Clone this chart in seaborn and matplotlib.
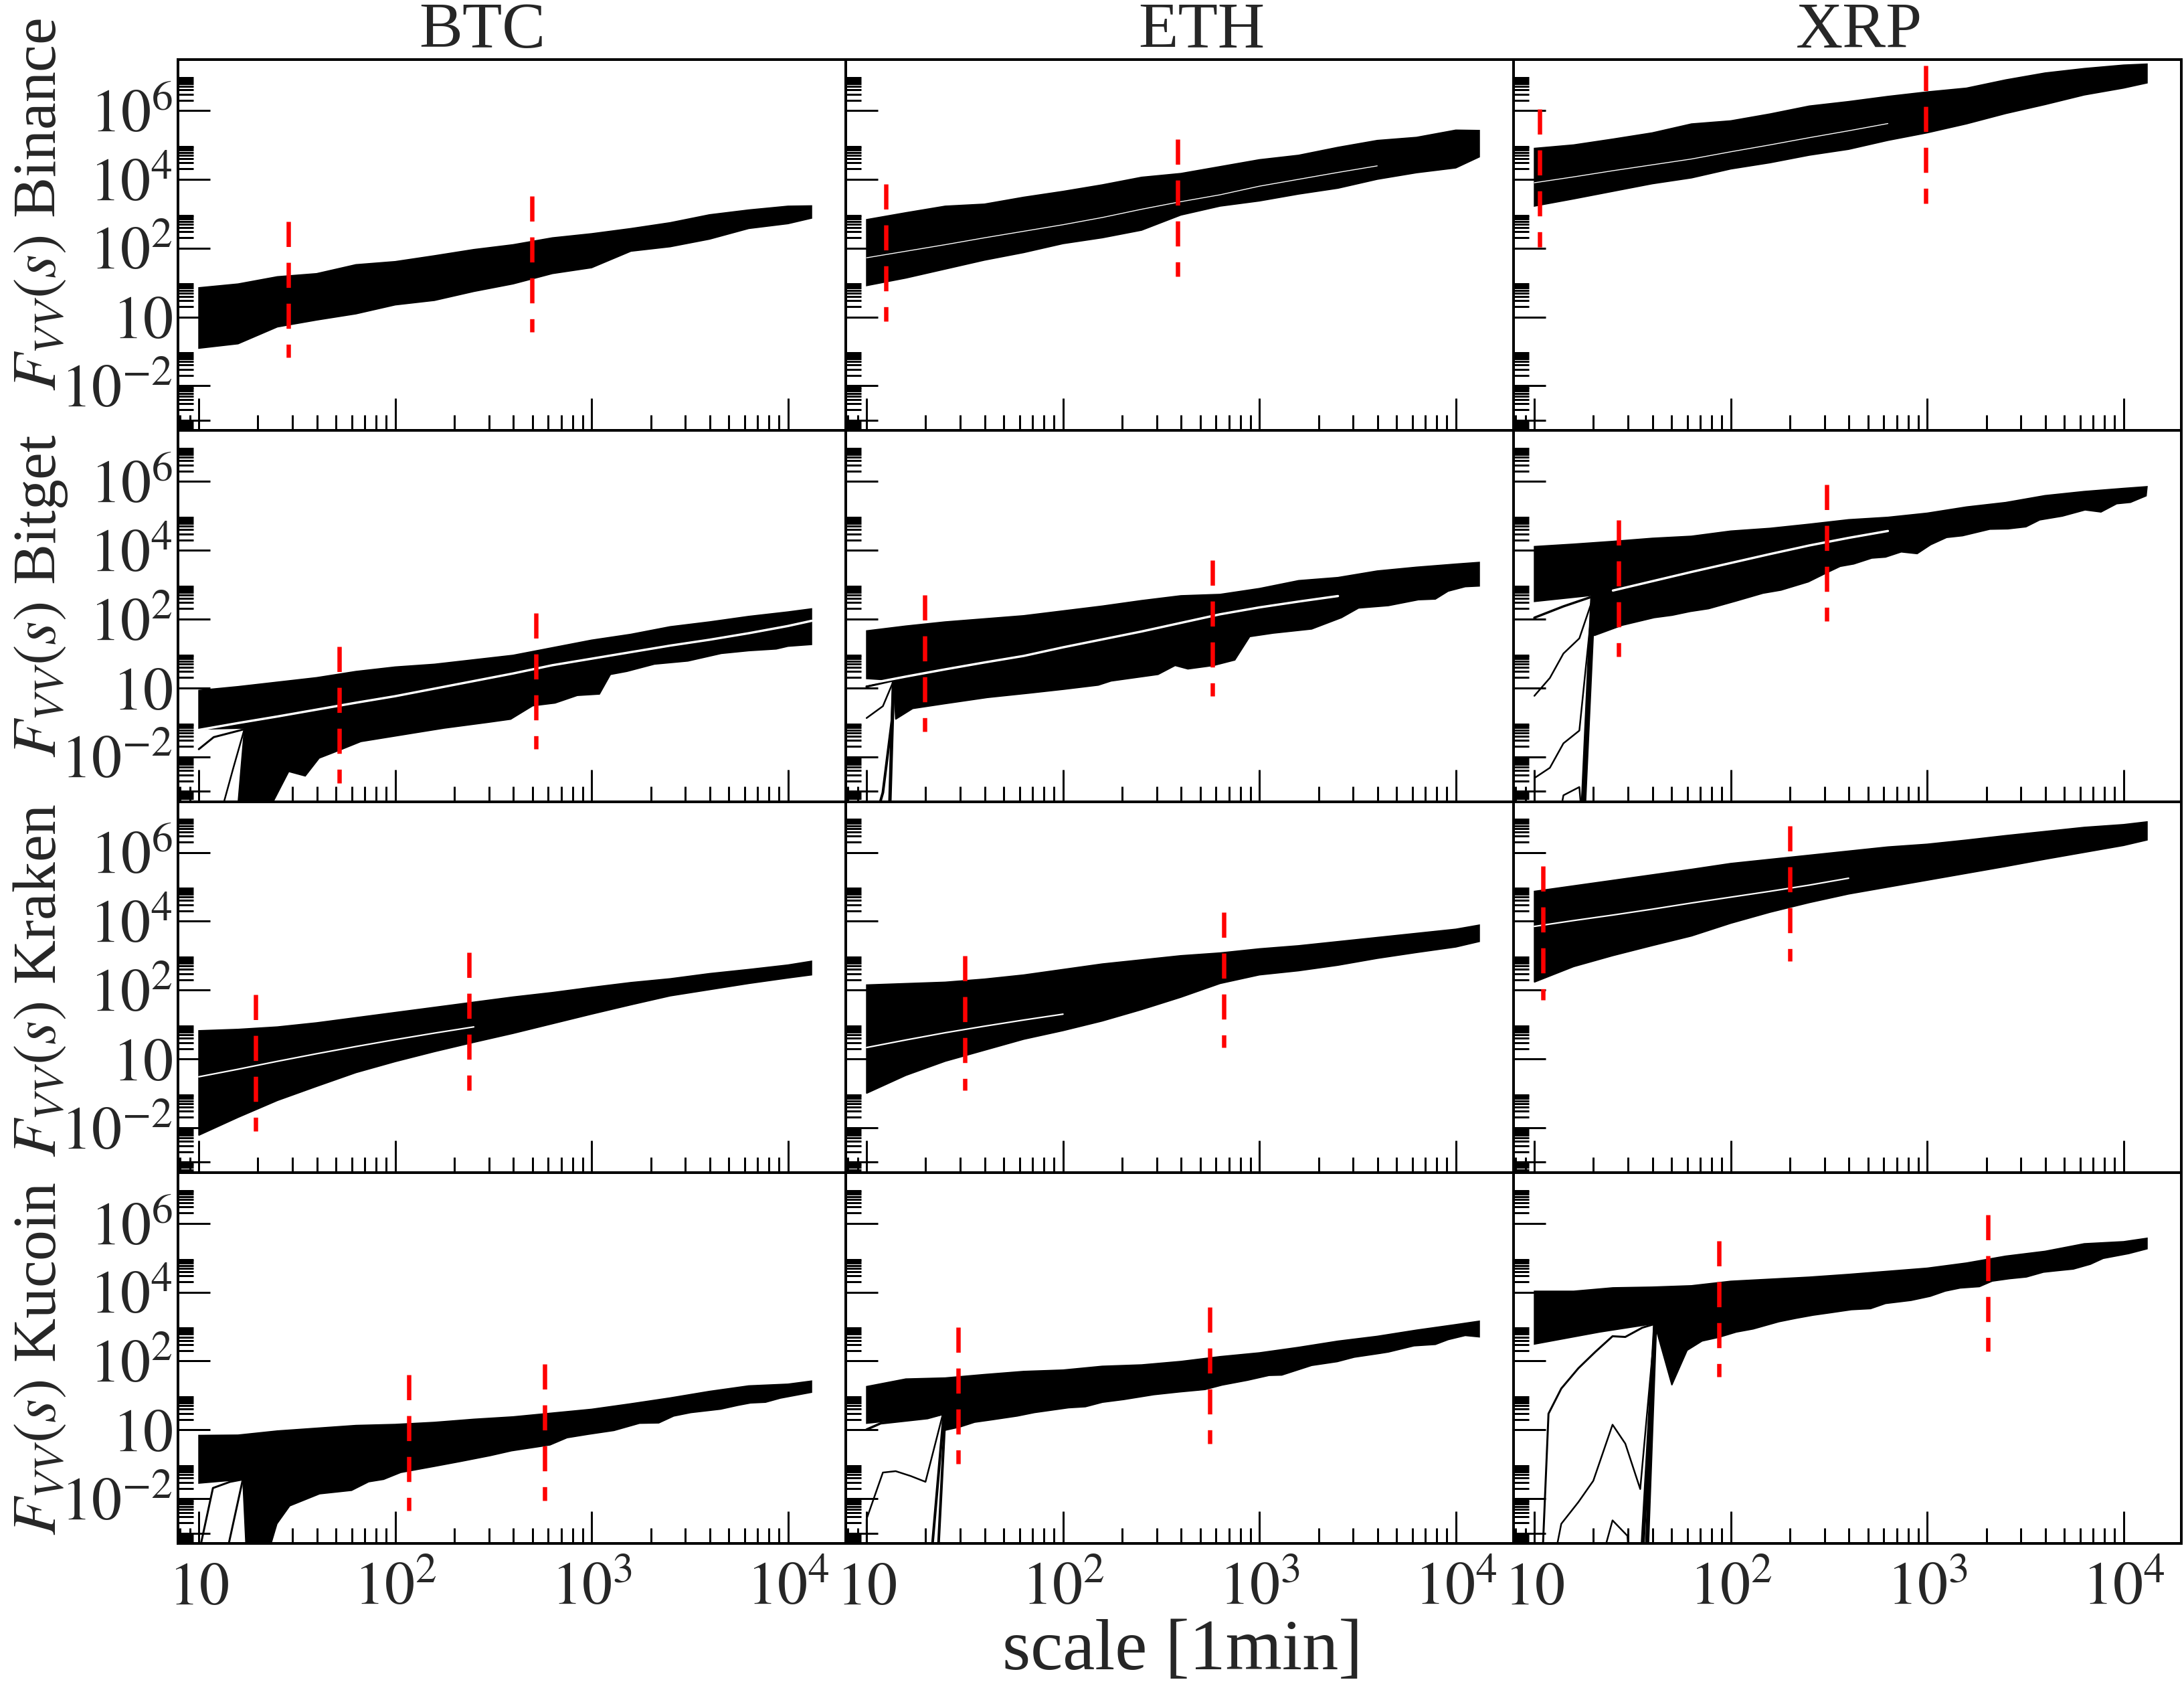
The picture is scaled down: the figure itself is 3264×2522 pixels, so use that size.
import numpy as np
import matplotlib
matplotlib.use("Agg")
import matplotlib.pyplot as plt
import matplotlib.ticker as mticker
import seaborn as sns

# --- layout constants (reference is 3264 x 2522 px) ---
W, H = 3264, 2522
PX = 0.72  # points per pixel at dpi=100

# --- DATA: log10(scale) grid for the top edges / white lines ---
GRID = [1.0, 1.2, 1.4, 1.6, 1.8, 2.0, 2.2, 2.4, 2.6, 2.8, 3.0, 3.2, 3.4, 3.6, 3.8, 4.0, 4.12]
nan = float("nan")

COINS = ["BTC", "ETH", "XRP"]
EXCHANGES = ["Binance", "Bitget", "Kraken", "Kucoin"]

# all band values are log10 F_VV(s)
# Binance
btc_binance_top = [0.85, 0.96, 1.17, 1.26, 1.52, 1.61, 1.78, 1.96, 2.10, 2.30, 2.42, 2.57, 2.74, 2.97, 3.11, 3.22, 3.23]
btc_binance_low = [-0.91, -0.78, -0.29, -0.09, 0.09, 0.35, 0.48, 0.74, 0.96, 1.26, 1.43, 1.91, 2.04, 2.26, 2.57, 2.71, 2.87]
btc_binance_cut_s = [1.455, 2.695]
btc_binance_cut_hi = [2.78, 3.52]
btc_binance_cut_lo = [-1.17, -0.43]

eth_binance_top = [2.83, 3.03, 3.22, 3.28, 3.48, 3.65, 3.84, 4.06, 4.17, 4.37, 4.57, 4.70, 4.93, 5.13, 5.22, 5.43, 5.42]
eth_binance_low = [0.91, 1.13, 1.39, 1.65, 1.87, 2.13, 2.30, 2.52, 2.96, 3.22, 3.37, 3.57, 3.74, 4.00, 4.19, 4.33, 4.65]
eth_binance_mid = [1.72, 1.91, 2.10, 2.30, 2.49, 2.68, 2.89, 3.13, 3.35, 3.55, 3.80, 4.00, 4.20, 4.39, nan, nan, nan]
eth_binance_cut_s = [1.10, 2.584]
eth_binance_cut_hi = [3.87, 5.17]
eth_binance_cut_lo = [-0.13, 1.17]

xrp_binance_top = [4.90, 5.00, 5.17, 5.35, 5.61, 5.70, 5.90, 6.13, 6.26, 6.41, 6.54, 6.65, 6.89, 7.09, 7.22, 7.32, 7.35]
xrp_binance_low = [3.22, 3.43, 3.65, 3.87, 4.04, 4.30, 4.48, 4.70, 4.87, 5.13, 5.35, 5.61, 5.91, 6.17, 6.45, 6.65, 6.80]
xrp_binance_mid = [3.90, 4.07, 4.25, 4.42, 4.59, 4.80, 5.00, 5.21, 5.41, 5.62, nan, nan, nan, nan, nan, nan, nan]
xrp_binance_cut_s = [1.026, 2.993]
xrp_binance_cut_hi = [6.04, 7.30]
xrp_binance_cut_lo = [2.04, 3.30]

# Bitget
btc_bitget_top = [-0.07, 0.04, 0.17, 0.30, 0.48, 0.61, 0.69, 0.82, 0.95, 1.17, 1.39, 1.56, 1.78, 1.92, 2.08, 2.21, 2.30]
btc_bitget_low_s = [1.0, 1.232, 1.19, 1.316, 1.458, 1.542, 1.613, 1.712, 1.825, 1.966, 2.107, 2.249, 2.475, 2.588,
                    2.70, 2.814, 2.927, 3.04, 3.096, 3.18, 3.32, 3.49, 3.66, 3.80, 3.94, 4.0, 4.12]
btc_bitget_low = [-1.20, -1.17, -4, -4, -2.43, -2.56, -2.04, -1.82, -1.56, -1.43, -1.30, -1.17, -1.0, -0.91,
                  -0.52, -0.44, -0.22, -0.18, 0.39, 0.48, 0.69, 0.78, 1.0, 1.08, 1.13, 1.21, 1.26]
btc_bitget_mid = [-1.22, -1.02, -0.83, -0.63, -0.43, -0.24, -0.02, 0.20, 0.42, 0.66, 0.85, 1.04, 1.23, 1.40, 1.59, 1.80, 1.95]
btc_bitget_stray1_s = [1.0, 1.076, 1.232]
btc_bitget_stray1 = [-1.78, -1.43, -1.20]
btc_bitget_stray2_s = [1.095, 1.175, 1.232]
btc_bitget_stray2 = [-4, -2.34, -1.20]
btc_bitget_cut_s = [1.715, 2.718]
btc_bitget_cut_hi = [1.21, 2.18]
btc_bitget_cut_lo = [-2.76, -1.78]

eth_bitget_top = [1.66, 1.80, 1.92, 2.01, 2.10, 2.24, 2.38, 2.54, 2.68, 2.72, 2.89, 3.12, 3.21, 3.40, 3.51, 3.60, 3.65]
eth_bitget_low_s = [1.0, 1.137, 1.148, 1.235, 1.398, 1.615, 1.832, 2.006, 2.18, 2.245, 2.484, 2.571, 2.636, 2.766,
                    2.875, 2.951, 3.07, 3.266, 3.418, 3.505, 3.657, 3.809, 3.896, 3.961, 4.048, 4.12]
eth_bitget_low = [0.27, 0.22, -0.91, -0.60, -0.46, -0.28, -0.15, -0.04, 0.08, 0.20, 0.39, 0.65, 0.55, 0.65,
                  0.81, 1.49, 1.59, 1.71, 2.04, 2.32, 2.39, 2.56, 2.58, 2.81, 2.94, 2.96]
eth_bitget_mid = [0.11, 0.33, 0.54, 0.74, 0.93, 1.18, 1.41, 1.64, 1.89, 2.14, 2.34, 2.51, 2.67, nan, nan, nan, nan]
eth_bitget_stray1_s = [1.0, 1.137]
eth_bitget_stray1 = [0.04, 0.22]
eth_bitget_stray2_s = [1.0, 1.083, 1.137]
eth_bitget_stray2 = [-0.875, -0.53, 0.20]
eth_bitget_stray3_s = [1.035, 1.083, 1.13, 1.137]
eth_bitget_stray3 = [-4, -3.04, -0.9, 0.20]
eth_bitget_stray4_s = [1.115, 1.137]
eth_bitget_stray4 = [-4, 0.20]
eth_bitget_cut_s = [1.295, 2.76]
eth_bitget_cut_hi = [2.70, 3.72]
eth_bitget_cut_lo = [-1.26, -0.24]

xrp_bitget_top = [4.11, 4.18, 4.26, 4.35, 4.41, 4.56, 4.64, 4.76, 4.89, 4.96, 5.08, 5.26, 5.39, 5.59, 5.71, 5.80, 5.85]
xrp_bitget_low_s = [1.0, 1.298, 1.305, 1.448, 1.61, 1.702, 1.794, 1.887, 2.025, 2.164, 2.256, 2.395, 2.487, 2.557,
                    2.626, 2.718, 2.788, 2.868, 2.949, 3.018, 3.099, 3.18, 3.319, 3.411, 3.503, 3.573, 3.688,
                    3.804, 3.885, 3.965, 4.035, 4.115]
xrp_bitget_low = [2.51, 2.69, 1.52, 1.82, 2.04, 2.11, 2.22, 2.30, 2.52, 2.75, 2.84, 3.08, 3.34, 3.53,
                  3.60, 3.77, 3.80, 3.95, 3.90, 4.16, 4.37, 4.42, 4.61, 4.62, 4.68, 4.88, 4.99,
                  5.17, 5.11, 5.35, 5.39, 5.58]
xrp_bitget_mid = [nan, nan, 2.83, 3.10, 3.37, 3.63, 3.89, 4.14, 4.36, 4.56, nan, nan, nan, nan, nan, nan, nan]
xrp_bitget_stray1_s = [1.0, 1.148, 1.298]
xrp_bitget_stray1 = [2.04, 2.37, 2.66]
xrp_bitget_stray2_s = [1.0, 1.079, 1.148, 1.229, 1.298]
xrp_bitget_stray2 = [-0.23, 0.29, 1.0, 1.44, 2.6]
xrp_bitget_stray3_s = [1.0, 1.079, 1.148, 1.229, 1.298]
xrp_bitget_stray3 = [-2.62, -2.32, -1.61, -1.24, 2.6]
xrp_bitget_stray4_s = [1.12, 1.148, 1.229, 1.245]
xrp_bitget_stray4 = [-4, -3.12, -2.88, -4]
xrp_bitget_stray5_s = [1.245, 1.298]
xrp_bitget_stray5 = [-4, 2.6]
xrp_bitget_cut_s = [1.43, 2.49]
xrp_bitget_cut_hi = [4.87, 5.90]
xrp_bitget_cut_lo = [0.92, 1.94]

# Kraken
btc_kraken_top = [0.82, 0.86, 0.93, 1.05, 1.20, 1.35, 1.50, 1.65, 1.80, 1.93, 2.08, 2.22, 2.33, 2.48, 2.60, 2.73, 2.84]
btc_kraken_low = [-2.22, -1.70, -1.21, -0.80, -0.40, -0.08, 0.21, 0.48, 0.74, 1.02, 1.30, 1.57, 1.83, 2.01, 2.19, 2.35, 2.44]
btc_kraken_mid = [-0.52, -0.30, -0.07, 0.15, 0.36, 0.56, 0.75, 0.93, nan, nan, nan, nan, nan, nan, nan, nan, nan]
btc_kraken_cut_s = [1.29, 2.376]
btc_kraken_cut_hi = [1.87, 3.09]
btc_kraken_cut_lo = [-2.10, -0.92]

eth_kraken_top = [2.15, 2.19, 2.23, 2.32, 2.44, 2.60, 2.76, 2.88, 3.0, 3.08, 3.2, 3.29, 3.41, 3.53, 3.65, 3.77, 3.89]
eth_kraken_low = [-1.0, -0.48, -0.07, 0.25, 0.57, 0.82, 1.10, 1.43, 1.79, 2.19, 2.44, 2.56, 2.72, 2.92, 3.09, 3.25, 3.41]
eth_kraken_mid = [0.33, 0.55, 0.76, 0.95, 1.13, 1.30, nan, nan, nan, nan, nan, nan, nan, nan, nan, nan, nan]
eth_kraken_cut_s = [1.50, 2.82]
eth_kraken_cut_hi = [3.0, 4.26]
eth_kraken_cut_lo = [-0.92, 0.33]

xrp_kraken_top = [4.87, 5.03, 5.19, 5.35, 5.51, 5.68, 5.80, 5.92, 6.04, 6.16, 6.24, 6.36, 6.49, 6.61, 6.73, 6.81, 6.89]
xrp_kraken_low = [2.23, 2.68, 3.0, 3.29, 3.57, 3.94, 4.26, 4.54, 4.79, 4.99, 5.19, 5.39, 5.59, 5.80, 6.0, 6.2, 6.36]
xrp_kraken_mid = [3.85, 4.02, 4.18, 4.35, 4.53, 4.70, 4.87, 5.05, 5.25, nan, nan, nan, nan, nan, nan, nan, nan]
xrp_kraken_cut_s = [1.043, 2.30]
xrp_kraken_cut_hi = [5.60, 6.77]
xrp_kraken_cut_lo = [1.71, 2.84]

# Kucoin
btc_kucoin_top = [-0.16, -0.15, -0.03, 0.05, 0.13, 0.16, 0.22, 0.31, 0.38, 0.49, 0.60, 0.76, 0.93, 1.12, 1.28, 1.33, 1.42]
btc_kucoin_low_s = [1.0, 1.224, 1.245, 1.332, 1.398, 1.463, 1.615, 1.778, 1.865, 1.941, 2.028, 2.201, 2.332, 2.484,
                    2.592, 2.788, 2.875, 2.983, 3.114, 3.244, 3.342, 3.418, 3.505, 3.657, 3.744, 3.809, 3.885, 3.961, 4.12]
btc_kucoin_low = [-1.55, -1.44, -4, -4, -2.73, -2.21, -1.86, -1.76, -1.51, -1.44, -1.24, -1.06, -0.92, -0.75,
                  -0.61, -0.44, -0.23, -0.13, -0.02, 0.19, 0.20, 0.40, 0.50, 0.60, 0.71, 0.78, 0.80, 0.92, 1.09]
btc_kucoin_stray1_s = [1.0, 1.072, 1.159, 1.224]
btc_kucoin_stray1 = [-3.6, -1.69, -1.51, -1.44]
btc_kucoin_stray2_s = [1.126, 1.224]
btc_kucoin_stray2 = [-4, -1.44]
btc_kucoin_cut_s = [2.071, 2.76]
btc_kucoin_cut_hi = [1.61, 1.91]
btc_kucoin_cut_lo = [-2.35, -2.05]

eth_kucoin_top = [1.26, 1.48, 1.51, 1.61, 1.70, 1.74, 1.85, 1.89, 1.99, 2.13, 2.24, 2.40, 2.58, 2.72, 2.90, 3.06, 3.16]
eth_kucoin_low_s = [1.0, 1.083, 1.31, 1.393, 1.402, 1.474, 1.55, 1.637, 1.767, 1.854, 2.028, 2.114, 2.201, 2.31,
                    2.462, 2.592, 2.723, 2.81, 2.94, 3.049, 3.114, 3.266, 3.396, 3.483, 3.613, 3.657, 3.787,
                    3.896, 3.961, 4.048, 4.12]
eth_kucoin_low = [0.19, 0.24, 0.35, 0.45, -0.01, 0.08, 0.22, 0.29, 0.40, 0.50, 0.64, 0.67, 0.80, 0.88,
                  1.02, 1.10, 1.17, 1.30, 1.44, 1.58, 1.59, 1.87, 1.98, 2.11, 2.22, 2.26, 2.44,
                  2.48, 2.62, 2.74, 2.70]
eth_kucoin_stray1_s = [1.0, 1.072, 1.31, 1.393]
eth_kucoin_stray1 = [0.01, 0.19, 0.34, 0.47]
eth_kucoin_stray2_s = [1.325, 1.393]
eth_kucoin_stray2 = [-4, 0.47]
eth_kucoin_stray3_s = [1.36, 1.40]
eth_kucoin_stray3 = [-4, 0.45]
eth_kucoin_stray4_s = [1.0, 1.0, 1.083, 1.148, 1.224, 1.30, 1.387]
eth_kucoin_stray4 = [-3.6, -2.59, -1.24, -1.20, -1.34, -1.51, 0.43]
eth_kucoin_cut_s = [1.467, 2.749]
eth_kucoin_cut_hi = [2.98, 3.56]
eth_kucoin_cut_lo = [-0.98, -0.40]

xrp_kucoin_top = [4.03, 4.03, 4.13, 4.15, 4.19, 4.32, 4.38, 4.44, 4.52, 4.61, 4.70, 4.85, 5.05, 5.19, 5.41, 5.47, 5.57]
xrp_kucoin_low_s = [1.0, 1.332, 1.615, 1.621, 1.70, 1.778, 1.854, 1.941, 2.028, 2.114, 2.245, 2.332, 2.419, 2.506,
                    2.614, 2.712, 2.788, 2.918, 3.016, 3.092, 3.168, 3.266, 3.331, 3.418, 3.505, 3.592, 3.657,
                    3.744, 3.831, 3.896, 3.961, 4.026, 4.12]
xrp_kucoin_low = [2.49, 2.84, 3.09, 2.90, 1.30, 2.31, 2.58, 2.69, 2.84, 2.93, 3.14, 3.24, 3.33, 3.40,
                  3.49, 3.52, 3.67, 3.76, 3.88, 4.03, 4.12, 4.16, 4.32, 4.39, 4.44, 4.58, 4.62,
                  4.67, 4.81, 4.98, 5.05, 5.12, 5.26]
xrp_kucoin_stray1_s = [1.039, 1.072, 1.137, 1.224, 1.311, 1.398, 1.463, 1.55, 1.615]
xrp_kucoin_stray1 = [-4, 0.47, 1.20, 1.79, 2.27, 2.72, 2.70, 2.97, 3.08]
xrp_kucoin_stray2_s = [1.093, 1.137, 1.224, 1.30, 1.398, 1.463, 1.539, 1.615]
xrp_kucoin_stray2 = [-4, -2.73, -2.10, -1.48, 0.15, -0.40, -1.72, 3.08]
xrp_kucoin_stray3_s = [1.332, 1.398, 1.474, 1.484]
xrp_kucoin_stray3 = [-4, -2.63, -3.08, -4]
xrp_kucoin_stray4_s = [1.545, 1.615]
xrp_kucoin_stray4 = [-4, 3.08]
xrp_kucoin_stray5_s = [1.57, 1.615]
xrp_kucoin_stray5 = [-4, 3.08]
xrp_kucoin_cut_s = [1.941, 3.31]
xrp_kucoin_cut_hi = [5.5, 6.24]
xrp_kucoin_cut_lo = [1.54, 2.28]

# --- panel table built from the lists above ---
g = globals()


def panel(coin, exch):
    key = f"{coin.lower()}_{exch.lower()}"
    strays = []
    k = 1
    while f"{key}_stray{k}" in g:
        strays.append((g[f"{key}_stray{k}_s"], g[f"{key}_stray{k}"]))
        k += 1
    return dict(top=g[f"{key}_top"], low_s=g.get(f"{key}_low_s", GRID), low=g[f"{key}_low"],
                mid=g.get(f"{key}_mid"), strays=strays,
                cut_s=g[f"{key}_cut_s"], cut_hi=g[f"{key}_cut_hi"], cut_lo=g[f"{key}_cut_lo"])


# stray line widths (px), steep ones are thicker
STRAY_LW = {("BTC", "Bitget"): [3, 2.5], ("ETH", "Bitget"): [3.5, 2.5, 4, 5],
            ("XRP", "Bitget"): [3.5, 2.5, 2.5, 2.5, 8], ("BTC", "Kucoin"): [3, 3],
            ("ETH", "Kucoin"): [3.5, 4, 4, 2.5], ("XRP", "Kucoin"): [3, 2.5, 2.5, 6, 6]}
MID_LW = {"Binance": 1.0, "Bitget": 2.5, "Kraken": 1.6, "Kucoin": 1.0}
ROW_LABEL_Y = [305, 890, 1465, 2030]          # px, centre of row labels
TITLE_X = [721, 1796, 2778]                   # px, column titles

# --- style ---
sns.set_style("ticks")
plt.rcParams["font.family"] = ["Liberation Serif", "DejaVu Serif"]
plt.rcParams["mathtext.fontset"] = "stix"
plt.rcParams["lines.scale_dashes"] = False

fig = plt.figure(figsize=(W / 100, H / 100), dpi=100)
gs = fig.add_gridspec(4, 3, left=266 / W, right=3260 / W, top=1 - 89 / H, bottom=1 - 2306 / H,
                      hspace=0, wspace=0)

y_major = [1e-3, 1e-2, 1, 1e2, 1e4, 1e6]
y_labels = ["", "$10^{-2}$", "$10$", "$10^{2}$", "$10^{4}$", "$10^{6}$"]
y_minor = [k * 10.0 ** n for n in [-4, -3, -2, 0, 2, 4, 6] for k in range(2, 10)]
x_major = [10, 100, 1000, 10000]
x_labels = ["$10$", "$10^{2}$", "$10^{3}$", "$10^{4}$"]
x_minor = [k * 10.0 ** n for n in range(0, 5) for k in range(2, 10)]

for r, exch in enumerate(EXCHANGES):
    for c, coin in enumerate(COINS):
        ax = fig.add_subplot(gs[r, c])
        ax.set_xscale("log")
        ax.set_yscale("log")
        p = panel(coin, exch)

        # band of fluctuation functions
        bx = np.concatenate([GRID, np.array(p["low_s"])[::-1]])
        by = np.concatenate([p["top"], np.array(p["low"])[::-1]])
        ax.fill(10 ** bx, 10 ** by, facecolor="black", edgecolor="black", linewidth=1.2, zorder=2)

        # separated curves at small scales
        lws = STRAY_LW.get((coin, exch), [])
        for (ss, ff), w in zip(p["strays"], lws):
            sns.lineplot(x=10 ** np.array(ss), y=10 ** np.array(ff), ax=ax, color="black",
                         linewidth=w * PX, sort=False, estimator=None, legend=False, zorder=2.5)

        # white line inside the band
        if p["mid"] is not None:
            m = np.array(p["mid"], dtype=float)
            ok = ~np.isnan(m)
            sns.lineplot(x=10 ** np.array(GRID)[ok], y=10 ** m[ok], ax=ax, color="white",
                         linewidth=MID_LW[exch], sort=False, estimator=None, legend=False, zorder=3)

        # red dashed crossover markers
        for s, hi, lo in zip(p["cut_s"], p["cut_hi"], p["cut_lo"]):
            sns.lineplot(x=[10 ** s, 10 ** s], y=[10 ** hi, 10 ** lo], ax=ax, color="red",
                         linewidth=6.5 * PX, linestyle=(0, (27, 17)), sort=False, estimator=None,
                         legend=False, zorder=4)

        ax.set_xlim(10 ** 0.894, 10 ** 4.294)
        ax.set_ylim(10 ** -3.30, 10 ** 7.479)
        ax.set_xlabel("")
        ax.set_ylabel("")

        ax.yaxis.set_major_locator(mticker.FixedLocator(y_major))
        ax.yaxis.set_major_formatter(mticker.FixedFormatter(y_labels))
        ax.yaxis.set_minor_locator(mticker.FixedLocator(y_minor))
        ax.yaxis.set_minor_formatter(mticker.NullFormatter())
        ax.xaxis.set_major_locator(mticker.FixedLocator(x_major))
        ax.xaxis.set_major_formatter(mticker.FixedFormatter(x_labels))
        ax.xaxis.set_minor_locator(mticker.FixedLocator(x_minor))
        ax.xaxis.set_minor_formatter(mticker.NullFormatter())

        ax.tick_params(which="both", direction="in", top=False, right=False, left=True, bottom=True,
                       width=3 * PX, color="black")
        ax.tick_params(which="major", length=48 * PX)
        ax.tick_params(which="minor", length=23 * PX)
        ax.tick_params(axis="x", labelsize=65, pad=27 * PX, labelbottom=(r == 3))
        ax.tick_params(axis="y", labelsize=65, pad=8 * PX, labelleft=(c == 0))
        for sp in ax.spines.values():
            sp.set_visible(True)
            sp.set_linewidth(4 * PX)
            sp.set_color("black")

        if r == 0:
            fig.text(TITLE_X[c] / W, 1 - 71 / H, coin, ha="center", va="baseline", fontsize=70)
    fig.text(83 / W, 1 - ROW_LABEL_Y[r] / H, f"$F_{{VV}}(s)$ {exch}", rotation=90,
             rotation_mode="anchor", ha="center", va="baseline", fontsize=66)

fig.text(1767 / W, 0.002, "scale [1min]", ha="center", va="bottom", fontsize=78)

fig.savefig("out.png", dpi=100)
